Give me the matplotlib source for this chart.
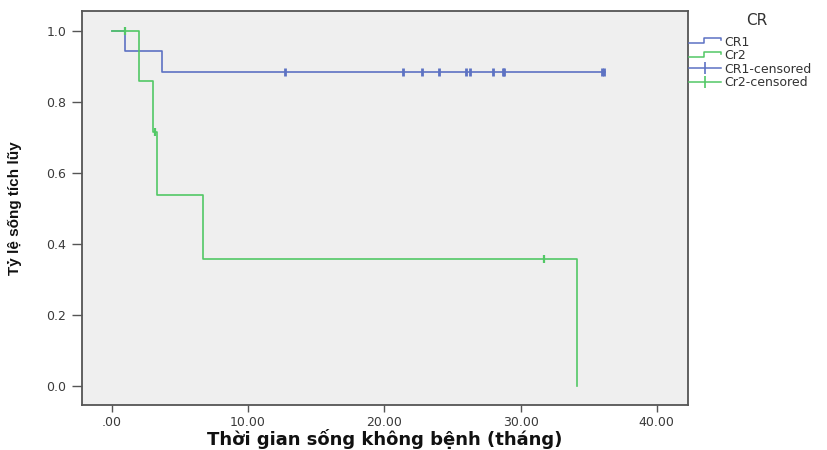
import numpy as np
import matplotlib
matplotlib.use("Agg")
import matplotlib.pyplot as plt
from matplotlib.legend_handler import HandlerBase
from matplotlib.lines import Line2D

plt.rcParams['font.family'] = ['DejaVu Sans']

# Kaplan-Meier: thoi diem bien co va ty le song sau moi bien co
cr1_event_t = [0.98, 3.67]
cr1_surv = [0.941, 0.882]
cr1_cens_t = [12.7, 21.4, 22.8, 24.0, 26.0, 26.3, 28.0, 28.7, 28.8, 36.0, 36.1]
cr1_end = 36.2

cr2_event_t = [2.02, 3.05, 3.3, 6.72, 34.17]
cr2_surv = [0.857, 0.714, 0.536, 0.357, 0.0]
cr2_cens_t = [0.98, 3.2, 31.7]
cr2_end = 34.17

x_ticks = [0, 10, 20, 30, 40]
x_labels = ['.00', '10.00', '20.00', '30.00', '40.00']
y_ticks = [0.0, 0.2, 0.4, 0.6, 0.8, 1.0]

c_blue = '#5d72c3'
c_green = '#52c866'


def km_steps(ev_t, surv, end):
    t = [0.0] + list(ev_t)
    s = [1.0] + list(surv)
    if end > t[-1]:
        t.append(end)
        s.append(s[-1])
    return np.array(t), np.array(s)


def surv_at(ev_t, surv, t):
    i = np.searchsorted(ev_t, t, side='right')
    s = np.concatenate([[1.0], surv])
    return s[i]


class StepHandler(HandlerBase):
    # ky hieu hinh bac thang cho chu giai
    def create_artists(self, legend, orig, x0, y0, w, h, fontsize, trans):
        xs = [x0, x0 + w * 0.45, x0 + w * 0.45, x0 + w, x0 + w]
        ys = [y0 + h * 0.25, y0 + h * 0.25, y0 + h * 0.85, y0 + h * 0.85, y0 + h * 0.6]
        ln = Line2D(xs, ys, color=orig.get_color(), lw=1.1, transform=trans)
        return [ln]


fig = plt.figure(figsize=(8.27, 4.5), dpi=100)
ax = fig.add_axes([0.0988, 0.1, 0.7328, 0.8756])
ax.set_facecolor('#efefef')

t1, s1 = km_steps(cr1_event_t, cr1_surv, cr1_end)
t2, s2 = km_steps(cr2_event_t, cr2_surv, cr2_end)
l1, = ax.step(t1, s1, where='post', color=c_blue, lw=1.2)
l2, = ax.step(t2, s2, where='post', color=c_green, lw=1.2)

c1, = ax.plot(cr1_cens_t, surv_at(cr1_event_t, cr1_surv, cr1_cens_t), ls='none',
              marker='|', ms=6, mew=2, color=c_blue)
c2, = ax.plot(cr2_cens_t, surv_at(cr2_event_t, cr2_surv, cr2_cens_t), ls='none',
              marker='|', ms=6, mew=1.6, color=c_green)

ax.set_xlim(-2.2, 42.27)
ax.set_ylim(-0.054, 1.055)
ax.set_xticks(x_ticks)
ax.set_xticklabels(x_labels)
ax.set_yticks(y_ticks)
ax.set_yticklabels([f'{v:.1f}' for v in y_ticks])
ax.tick_params(direction='out', width=1, color='#555555',
               labelsize=9, labelcolor='#3a3a3a')
ax.tick_params(axis='x', length=5, pad=3)
ax.tick_params(axis='y', length=7, pad=4)
for sp in ax.spines.values():
    sp.set_color('#555555')
    sp.set_linewidth(1.3)

ax.set_xlabel('Thời gian sống không bệnh (tháng)', fontsize=13, fontweight='bold',
              color='#111111')
ax.xaxis.set_label_coords(0.5, -0.06)
ax.set_ylabel('Tỷ lệ sống tích lũy', fontsize=11, fontweight='bold', color='#111111',
              family=['Liberation Sans Narrow', 'Liberation Sans', 'DejaVu Sans'])
ax.yaxis.set_label_coords(-0.098, 0.5)

# chu giai ben phai
fig.text(0.915, 0.955, 'CR', fontsize=11, color='#333333', ha='center', va='center')
h1 = Line2D([], [], color=c_blue, marker='|', ms=8, mew=1.2, lw=1.1)
h2 = Line2D([], [], color=c_green, marker='|', ms=8, mew=1.2, lw=1.1)
leg = fig.legend([l1, l2, h1, h2], ['CR1', 'Cr2', 'CR1-censored', 'Cr2-censored'],
                 loc='upper left', bbox_to_anchor=(0.833, 0.921), frameon=False,
                 fontsize=9, handlelength=2.6, handletextpad=0.2,
                 labelspacing=0.05, borderpad=0, borderaxespad=0,
                 handler_map={l1: StepHandler(), l2: StepHandler()})
for t in leg.get_texts():
    t.set_color('#333333')

fig.savefig('out.png', dpi=100)
